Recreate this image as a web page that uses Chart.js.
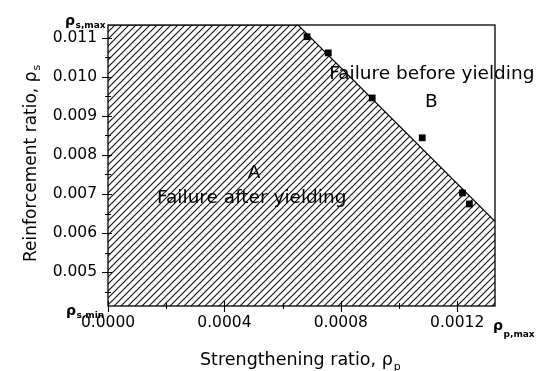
<!DOCTYPE html>
<html>
<head>
<meta charset="utf-8">
<script src="https://cdn.jsdelivr.net/npm/chart.js@4.4.1/dist/chart.umd.min.js"></script>
<style>
  html, body { margin: 0; padding: 0; background: #fff; }
  canvas { display: block; }
</style>
</head>
<body>
<canvas id="c" width="539" height="371"></canvas>
<script>
// ---- data ----
const strengtheningRatio = [0.000684, 0.000757, 0.000908, 0.00108, 0.001218, 0.001242];
const reinforcementRatio = [0.01103, 0.010615, 0.00946, 0.00844, 0.007026, 0.006744];
const boundaryX = [0, 0.000653, 0.00133];
const boundaryY = [0.01133, 0.01133, 0.0063];
const xTicks = [0, 0.0004, 0.0008, 0.0012];
const xMinorTicks = [0.0002, 0.0006, 0.0010];
const yTicks = [0.005, 0.006, 0.007, 0.008, 0.009, 0.010, 0.011];
const yMinorTicks = [0.0045, 0.0055, 0.0065, 0.0075, 0.0085, 0.0095, 0.0105];
const xRange = [0, 0.00133];
const yRange = [0.00413, 0.01133];

const FONT = '"DejaVu Sans", "Liberation Sans", Arial, sans-serif';

// hatch pattern
const tile = document.createElement('canvas');
tile.width = 7; tile.height = 7;
const tc = tile.getContext('2d');
tc.fillStyle = '#fff';
tc.fillRect(0, 0, 7, 7);
tc.strokeStyle = '#111';
tc.lineWidth = 1.1;
tc.beginPath();
tc.moveTo(0, 7); tc.lineTo(7, 0);
tc.moveTo(-1, 1); tc.lineTo(1, -1);
tc.moveTo(6, 8); tc.lineTo(8, 6);
tc.stroke();
const hatch = tc.createPattern(tile, 'repeat');

const annotations = [
  { text: 'Failure before yielding', x: 0.001113, y: 0.009949, size: 18.5 },
  { text: 'B', x: 0.001111, y: 0.009231, size: 18.5 },
  { text: 'A', x: 0.000502, y: 0.00741, size: 18.5 },
  { text: 'Failure after yielding', x: 0.000494, y: 0.006769, size: 18.5 }
];

const frameTicks = {
  id: 'frameTicks',
  afterDatasetsDraw(chart) {
    const { ctx, chartArea: a, scales: { x, y } } = chart;
    ctx.save();
    ctx.strokeStyle = '#000';
    ctx.lineWidth = 1.3;
    ctx.strokeRect(a.left, a.top, a.right - a.left, a.bottom - a.top);
    ctx.lineWidth = 1.1;
    ctx.beginPath();
    yTicks.forEach(v => { const p = Math.round(y.getPixelForValue(v)) + 0.5; ctx.moveTo(a.left - 6, p); ctx.lineTo(a.left + 4, p); });
    yMinorTicks.forEach(v => { const p = Math.round(y.getPixelForValue(v)) + 0.5; ctx.moveTo(a.left - 3, p); ctx.lineTo(a.left + 3, p); });
    xTicks.forEach(v => { const p = Math.round(x.getPixelForValue(v)) + 0.5; ctx.moveTo(p, a.bottom - 5); ctx.lineTo(p, a.bottom + 6); });
    xMinorTicks.forEach(v => { const p = Math.round(x.getPixelForValue(v)) + 0.5; ctx.moveTo(p, a.bottom - 3); ctx.lineTo(p, a.bottom + 3); });
    ctx.stroke();
    ctx.restore();
  }
};

function subLabel(ctx, main, sub, x0, yMain, ySub, mainSize, subSize) {
  ctx.font = 'bold ' + mainSize + 'px ' + FONT;
  ctx.fillText(main, x0, yMain);
  const w = ctx.measureText(main).width;
  ctx.font = 'bold ' + subSize + 'px ' + FONT;
  ctx.fillText(sub, x0 + w + 0.5, ySub);
}

const texts = {
  id: 'texts',
  afterDraw(chart) {
    const { ctx, chartArea: a, scales: { x, y } } = chart;
    ctx.save();
    ctx.fillStyle = '#000';
    ctx.textBaseline = 'alphabetic';
    ctx.textAlign = 'center';
    annotations.forEach(t => {
      ctx.font = t.size + 'px ' + FONT;
      ctx.fillText(t.text, x.getPixelForValue(t.x), y.getPixelForValue(t.y));
    });
    ctx.textAlign = 'left';
    // special labels
    subLabel(ctx, 'ρ', 's,max', a.left - 43, a.top, a.top + 3, 14, 9);
    subLabel(ctx, 'ρ', 's,min', a.left - 42, a.bottom + 9, a.bottom + 12, 14, 9);
    subLabel(ctx, 'ρ', 'p,max', a.right - 2, a.bottom + 24, a.bottom + 31, 14, 9);
    // x title
    ctx.font = '17.5px ' + FONT;
    const xt = 'Strengthening ratio, ρ';
    ctx.fillText(xt, 200, 365);
    const xw = ctx.measureText(xt).width;
    ctx.font = '11px ' + FONT;
    ctx.fillText('p', 200 + xw + 1, 370);
    // y title
    ctx.save();
    ctx.translate(36, 262);
    ctx.rotate(-Math.PI / 2);
    ctx.font = '17px ' + FONT;
    const yt = 'Reinforcement ratio, ρ';
    ctx.fillText(yt, 0, 0);
    const yw = ctx.measureText(yt).width;
    ctx.font = '11px ' + FONT;
    ctx.fillText('s', yw + 1, 4);
    ctx.restore();
    ctx.restore();
  }
};

new Chart(document.getElementById('c'), {
  type: 'scatter',
  data: {
    datasets: [
      {
        type: 'line',
        order: 2,
        data: boundaryX.map((v, i) => ({ x: v, y: boundaryY[i] })),
        showLine: true,
        fill: 'start',
        backgroundColor: hatch,
        borderColor: '#000',
        borderWidth: 1.2,
        pointRadius: 0,
        tension: 0
      },
      {
        order: 1,
        data: strengtheningRatio.map((v, i) => ({ x: v, y: reinforcementRatio[i] })),
        pointStyle: 'rect',
        pointRadius: 4.8,
        backgroundColor: '#000',
        borderColor: '#000',
        borderWidth: 0
      }
    ]
  },
  options: {
    responsive: false,
    animation: false,
    events: [],
    layout: { padding: { top: 25, right: 44, left: 0, bottom: 0 } },
    plugins: { legend: { display: false }, tooltip: { enabled: false } },
    scales: {
      x: {
        type: 'linear',
        min: xRange[0], max: xRange[1],
        afterBuildTicks: s => { s.ticks = xTicks.map(v => ({ value: v })); },
        afterFit: s => { s.height = 65; },
        grid: { display: false, drawTicks: false },
        border: { display: false },
        ticks: {
          callback: v => Number(v).toFixed(4),
          font: { family: FONT, size: 15.5 },
          color: '#000',
          padding: 8,
          maxRotation: 0,
          autoSkip: false
        }
      },
      y: {
        type: 'linear',
        min: yRange[0], max: yRange[1],
        afterBuildTicks: s => { s.ticks = yTicks.map(v => ({ value: v })); },
        afterFit: s => { s.width = 108; },
        grid: { display: false, drawTicks: false },
        border: { display: false },
        ticks: {
          callback: v => Number(v).toFixed(3),
          font: { family: FONT, size: 15.5 },
          color: '#000',
          padding: 11,
          autoSkip: false
        }
      }
    }
  },
  plugins: [frameTicks, texts]
});
</script>
</body>
</html>
